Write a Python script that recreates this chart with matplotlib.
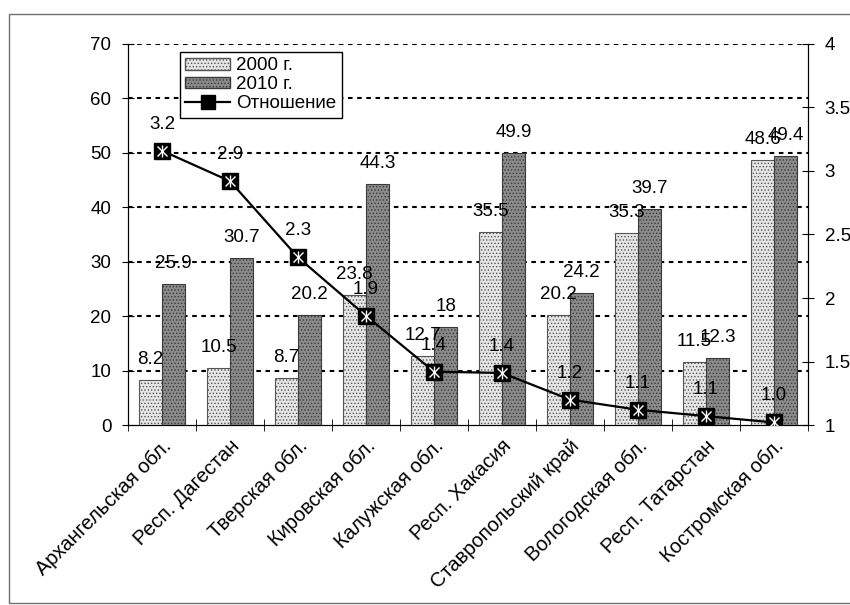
import matplotlib.pyplot as plt
import matplotlib.patches as mpatches
from matplotlib.lines import Line2D
import numpy as np

plt.rcParams['font.family'] = ['Liberation Sans', 'DejaVu Sans']
plt.rcParams['hatch.linewidth'] = 0.6

regions = ['Архангельская обл.', 'Респ. Дагестан', 'Тверская обл.', 'Кировская обл.',
           'Калужская обл.', 'Респ. Хакасия', 'Ставропольский край', 'Вологодская обл.',
           'Респ. Татарстан', 'Костромская обл.']
y2000 = [8.2, 10.5, 8.7, 23.8, 12.7, 35.5, 20.2, 35.3, 11.5, 48.6]
y2010 = [25.9, 30.7, 20.2, 44.3, 18, 49.9, 24.2, 39.7, 12.3, 49.4]
ratio = [3.16, 2.92, 2.32, 1.86, 1.42, 1.41, 1.20, 1.12, 1.07, 1.02]

fs = 13.5

fig = plt.figure(figsize=(8.5, 6.05), dpi=100)
ax = fig.add_axes([0.1506, 0.2975, 0.80, 0.6298])
ax2 = ax.twinx()

x = np.arange(len(regions))
w = 0.34
ax.bar(x - w / 2, y2000, w, color='#e6e6e6', edgecolor='#555555', hatch='.....', linewidth=0.8, zorder=3)
ax.bar(x + w / 2, y2010, w, color='#8a8a8a', edgecolor='#3a3a3a', hatch='.....', linewidth=0.8, zorder=3)

for xi, v in zip(x, y2000):
    ax.annotate(str(v), (xi - w / 2, v), xytext=(0, 12), textcoords='offset pixels',
                ha='center', va='bottom', fontsize=fs, zorder=5)
for xi, v in zip(x, y2010):
    ax.annotate('%g' % v, (xi + w / 2, v), xytext=(0, 12), textcoords='offset pixels',
                ha='center', va='bottom', fontsize=fs, zorder=5)

ax.set_xlim(-0.5, len(regions) - 0.5)
ax.set_ylim(0, 70)
ax.set_yticks(range(0, 71, 10))
for g in range(10, 71, 10):
    ax.axhline(g, color='black', linestyle=(0, (2.2, 2.2)), linewidth=1.5, zorder=1)

ax.set_xticks(x)
ax.set_xticklabels(regions, rotation=45, ha='right', rotation_mode='anchor', fontsize=14.5)
ax.tick_params(axis='x', length=0, pad=8)
ax.set_xticks(np.arange(-0.5, len(regions), 1), minor=True)
ax.tick_params(axis='x', which='minor', direction='inout', length=8)
ax.tick_params(axis='y', direction='inout', length=8, labelsize=fs, pad=8)

ax2.set_zorder(ax.get_zorder() + 1)
ax2.patch.set_visible(False)
ax2.plot(x, ratio, color='black', linewidth=1.6, zorder=4)
ax2.plot(x, ratio, linestyle='none', marker='s', markersize=12, color='black', zorder=5)
ax2.plot(x, ratio, linestyle='none', marker='x', markersize=7, mew=1, color='white', zorder=6)
ax2.plot(x, ratio, linestyle='none', marker='|', markersize=8, mew=1, color='white', zorder=6)
for xi, r in zip(x, ratio):
    ax2.annotate('%.1f' % r, (xi, r), xytext=(0, 18), textcoords='offset pixels',
                 ha='center', va='bottom', fontsize=fs)
ax2.set_ylim(1, 4)
ax2.set_yticks([1, 1.5, 2, 2.5, 3, 3.5, 4])
ax2.set_yticklabels(['1', '1.5', '2', '2.5', '3', '3.5', '4'])
ax2.tick_params(axis='y', direction='inout', length=8, labelsize=fs, pad=8)

for a in (ax, ax2):
    a.spines['top'].set_visible(False)

handles = [mpatches.Patch(facecolor='#e6e6e6', edgecolor='#555555', hatch='.....'),
           mpatches.Patch(facecolor='#8a8a8a', edgecolor='#3a3a3a', hatch='.....'),
           Line2D([0], [0], color='black', marker='s', markersize=10, markerfacecolor='black', lw=1.6)]
leg = ax2.legend(handles, ['2000 г.', '2010 г.', 'Отношение'], loc='upper left',
                 bbox_to_anchor=(0.076, 0.98), fontsize=fs, frameon=True, fancybox=False,
                 framealpha=1, edgecolor='black', borderpad=0.3, labelspacing=0.1,
                 handlelength=2.4, handleheight=0.6, handletextpad=0.3, borderaxespad=0)
leg.get_frame().set_linewidth(1.0)
leg.set_zorder(10)

fig.patches.append(mpatches.Rectangle((0.0106, 0.0033), 1.2, 0.9736, transform=fig.transFigure,
                                      fill=False, edgecolor='#707070', linewidth=1))

fig.savefig('out.png', dpi=100)
